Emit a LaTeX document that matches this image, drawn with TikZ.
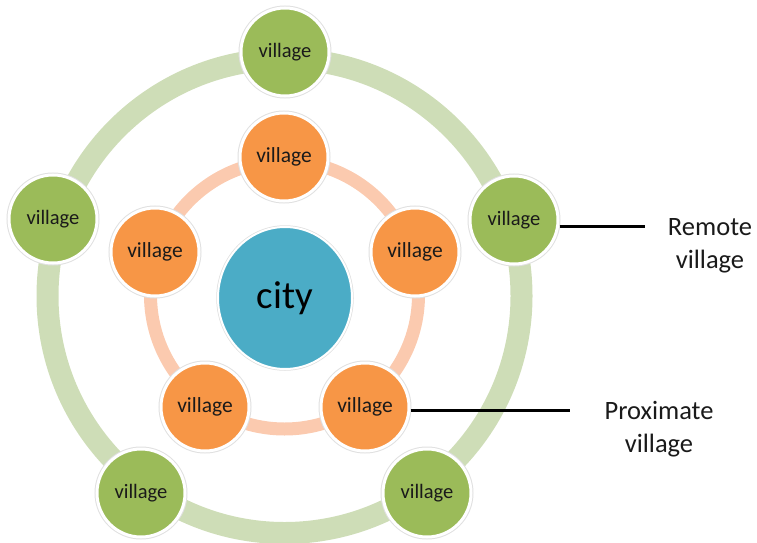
\documentclass[tikz,border=0pt]{standalone}
\usepackage{fontspec}
\setmainfont{Carlito}
\usetikzlibrary{shapes.geometric}
\definecolor{vgreen}{HTML}{9BBB59}
\definecolor{vorange}{HTML}{F79646}
\definecolor{vblue}{HTML}{4BACC6}
\definecolor{ringgreen}{HTML}{CEDDB7}
\definecolor{ringorange}{HTML}{FBCAAF}
\definecolor{txt}{HTML}{1A1A1A}
\begin{document}
\begin{tikzpicture}[x=1pt,y=-1pt,
  vnode/.style={circle, minimum size=88pt, inner sep=0pt, draw=white, line width=3pt,
    text=txt, font=\fontsize{20.5}{24}\selectfont,
    preaction={draw=black!12, line width=5pt}},
  gv/.style={vnode, fill=vgreen},
  ov/.style={vnode, fill=vorange, font=\fontsize{21.5}{25}\selectfont},
  citynode/.style={ellipse, minimum width=134pt, minimum height=142pt, inner sep=0pt,
    fill=vblue, draw=white, line width=2pt, preaction={draw=black!12, line width=3.5pt},
    text=black, font=\fontsize{39}{44}\selectfont},
  lbl/.style={align=center, text=txt, font=\fontsize{26.5}{33}\selectfont},
  leader/.style={draw=black, line width=3.4pt}
]
\useasboundingbox (0,0) rectangle (757,543);
% rings
\draw[ringgreen, line width=22pt] (284.5,296) circle[radius=237];
\draw[ringorange, line width=13pt] (284.5,295) circle[radius=134];
% outer villages
\node[gv] (gT) at (285,52) {village};
\node[gv] (gL) at (53,219) {village};
\node[gv] (gR) at (514,220) {village};
\node[gv] (gBL) at (141,493) {village};
\node[gv] (gBR) at (427,493) {village};
% inner villages
\node[ov] (oT) at (284,157) {village};
\node[ov] (oL) at (155,252) {village};
\node[ov] (oR) at (415,252) {village};
\node[ov] (oBL) at (205,407) {village};
\node[ov] (oBR) at (365,407) {village};
% city
\node[citynode] (city) at (285,298) {city};
% labels
\node[lbl] (remote) at (710,246) {Remote\\village};
\node[lbl] (prox) at (659,429) {Proximate\\village};
\coordinate (rEnd) at (645,226.5);
\coordinate (pEnd) at (570,410.5);
\draw[leader] (gR.east |- rEnd) -- (rEnd);
\draw[leader] (oBR.east |- pEnd) -- (pEnd);
\end{tikzpicture}
\end{document}
